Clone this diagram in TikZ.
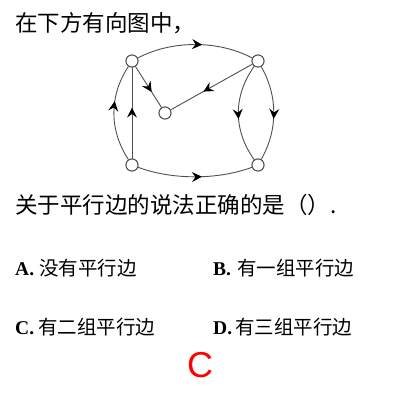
\documentclass[tikz,border=0pt]{standalone}
\usepackage{fontspec}
\setmainfont{Liberation Serif}
\newfontfamily\cjk{Noto Sans CJK SC}
\newfontfamily\arialfont{Liberation Sans}
\usetikzlibrary{arrows.meta,decorations.markings}
\definecolor{edgegray}{HTML}{505050}
\begin{document}
\begin{tikzpicture}[x=1pt,y=-1pt,
  vert/.style={circle,draw=edgegray,fill=white,line width=0.9pt,minimum size=12pt,inner sep=0pt},
  edge/.style={draw=edgegray,line width=0.9pt},
  midarrow/.style={postaction={decorate},decoration={markings,mark=at position #1 with {\arrow{Stealth[length=10pt,width=10pt,inset=3.5pt,black]}}}},
  midarrow/.default=0.56,
  qtext/.style={anchor=west,inner sep=0pt,font=\cjk\fontsize{22.5}{22.5}\selectfont},
  opt/.style={anchor=west,inner sep=0pt,font=\cjk\fontsize{19.5}{19.5}\selectfont},
]
\fill[white] (0,0) rectangle (400,400);
\useasboundingbox (0,0) rectangle (400,400);

% question text
\node[qtext] (q1) at (15,23) {在下方有向图中，};
\node[qtext] (q2) at (15,205) {关于平行边的说法正确的是（）.};

% graph vertices
\node[vert] (TL) at (132,61) {};
\node[vert] (TR) at (258,61) {};
\node[vert] (C)  at (165,113) {};
\node[vert] (BL) at (132,165) {};
\node[vert] (BR) at (258,165) {};

% edges
\draw[edge,midarrow] (TL) .. controls +(40,-21) and +(-40,-21) .. (TR);
\draw[edge,midarrow] (BL) .. controls +(40,15) and +(-40,15) .. (BR);
\draw[edge,midarrow] (BL) -- (TL);
\draw[edge,midarrow=0.62] (BL) .. controls +(-23,-35) and +(-23,35) .. (TL);
\draw[edge,midarrow=0.62] (TL) -- (C);
\draw[edge,midarrow=0.6] (TR) -- (C);
\draw[edge,midarrow] (TR) .. controls +(-25,35) and +(-25,-35) .. (BR);
\draw[edge,midarrow] (TR) .. controls +(20,35) and +(20,-35) .. (BR);

% redraw vertices on top
\foreach \v in {TL,TR,C,BL,BR} \draw[edgegray,fill=white,line width=0.9pt] (\v) circle (6pt);

% options
\node[opt] (optA) at (15,268) {\makebox[24pt][l]{\fontspec{Liberation Serif}\bfseries A.}没有平行边};
\node[opt] (optB) at (213,268) {\makebox[24pt][l]{\fontspec{Liberation Serif}\bfseries B.}有一组平行边};
\node[opt] (optC) at (15,327) {\makebox[23pt][l]{\fontspec{Liberation Serif}\bfseries C.}有二组平行边};
\node[opt] (optD) at (213,327) {\makebox[22pt][l]{\fontspec{Liberation Serif}\bfseries D.}有三组平行边};

% answer
\node[text=red,inner sep=0pt,font=\arialfont\fontsize{36}{36}\selectfont] (ans) at (200,365) {C};
\end{tikzpicture}
\end{document}
